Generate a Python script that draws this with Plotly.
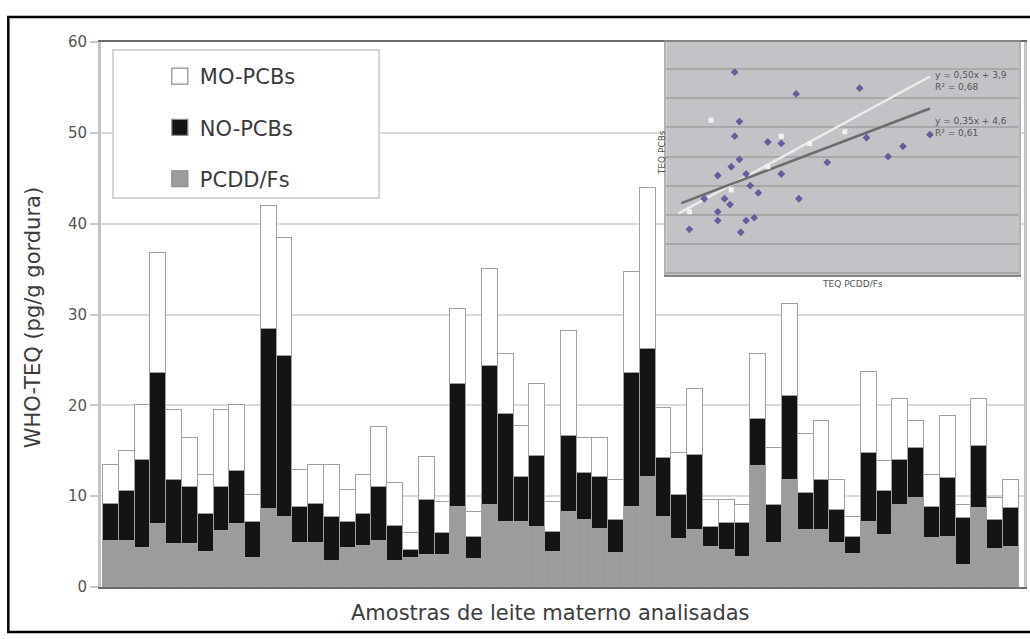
import plotly.graph_objects as go

# ---------------- main chart data (WHO-TEQ, pg/g gordura) ----------------
pcdd_fs = [5.1, 5.1, 4.3, 6.9, 4.7, 4.7, 3.8, 6.2, 6.9, 3.2, 8.6, 7.7, 4.8, 4.8, 2.9, 4.3, 4.5, 5.1, 2.9, 3.2,
           3.5, 3.5, 8.8, 3.1, 9.0, 7.2, 7.2, 6.6, 3.9, 8.3, 7.4, 6.4, 3.7, 8.8, 12.1, 7.7, 5.3, 6.3, 4.4, 4.1,
           3.3, 13.3, 4.8, 11.8, 6.3, 6.3, 4.8, 3.6, 7.2, 5.7, 9.0, 9.8, 5.4, 5.5, 2.4, 8.7, 4.2, 4.4]
no_pcbs = [4.0, 5.5, 9.7, 16.7, 7.1, 6.3, 4.2, 4.8, 5.9, 4.0, 19.8, 17.7, 4.0, 4.3, 4.8, 2.9, 3.5, 5.9, 3.8, 0.9,
           6.1, 2.4, 13.6, 2.4, 15.3, 11.8, 4.9, 7.8, 2.2, 8.3, 5.2, 5.7, 3.7, 14.8, 14.1, 6.5, 4.8, 8.2, 2.2, 2.9,
           3.7, 5.2, 4.2, 9.2, 4.1, 5.5, 3.7, 1.9, 7.6, 4.9, 5.0, 5.5, 3.4, 6.5, 5.2, 6.8, 3.2, 4.3]
mo_pcbs = [4.3, 4.4, 6.0, 13.2, 7.7, 5.4, 4.3, 8.5, 7.2, 2.9, 13.6, 13.0, 4.1, 4.3, 5.7, 3.5, 4.3, 6.6, 4.8, 1.8,
           4.7, 3.5, 8.2, 2.8, 10.7, 6.7, 5.6, 8.0, 3.3, 11.6, 3.8, 4.3, 4.4, 11.1, 17.7, 5.5, 4.7, 7.3, 3.0, 2.6,
           2.0, 7.2, 6.3, 10.2, 6.4, 6.5, 3.3, 2.2, 8.9, 3.3, 6.7, 3.0, 3.5, 6.8, 1.4, 5.2, 2.4, 3.1]
samples = list(range(1, len(pcdd_fs) + 1))

legend_names = ["MO-PCBs", "NO-PCBs", "PCDD/Fs"]
y_title = "WHO-TEQ (pg/g gordura)"
x_title = "Amostras de leite materno analisadas"

# ---------------- inset (scatter with two trend lines) ----------------
inset_a_x = [4.55, 9.1, 13.8, 4.9, 4.55, 8.0, 7.0, 14.3, 19.0, 17.0, 15.9, 4.9, 11.4, 4.3, 3.3,
             5.4, 8.0, 5.7, 6.3, 2.3, 3.8, 4.2, 9.3, 3.3, 3.3, 6.0, 5.4, 1.2, 5.0]
inset_a_y = [13.8, 12.3, 12.7, 10.4, 9.4, 8.9, 9.0, 9.3, 9.5, 8.7, 8.0, 7.8, 7.6, 7.3, 6.7,
             6.8, 6.8, 6.0, 5.5, 5.1, 5.1, 4.7, 5.1, 4.2, 3.6, 3.8, 3.6, 3.0, 2.8]
inset_b_x = [2.8, 8.0, 7.0, 4.3, 1.2, 10.1, 12.7]
inset_b_y = [10.5, 9.4, 7.3, 5.7, 4.2, 8.9, 9.7]
fit_light_x = [0.4, 19.0]
fit_light_y = [4.1, 13.5]
fit_dark_x = [0.6, 19.0]
fit_dark_y = [4.8, 11.3]
eq_light = ["y = 0,50x + 3,9", "R² = 0,68"]
eq_dark = ["y = 0,35x + 4,6", "R² = 0,61"]
inset_x_title = "TEQ PCDD/Fs"
inset_y_title = "TEQ PCBs"

# ---------------- figure ----------------
W, H = 1030, 639
ML, MR, MT, MB = 101, 3, 42, 52
PW, PH = W - ML - MR, H - MT - MB


def px(xp):
    return (xp - ML) / PW


def py(yp):
    return (H - MB - yp) / PH


FONT = "DejaVu Sans"
GRAY = "#9c9c9c"
BLACK = "#141414"
WHITE = "#ffffff"
EDGE = "#a0a0a0"

fig = go.Figure()

for vals, name, col in [(pcdd_fs, legend_names[2], GRAY),
                        (no_pcbs, legend_names[1], BLACK),
                        (mo_pcbs, legend_names[0], WHITE)]:
    fig.add_trace(go.Bar(x=samples, y=vals, name=name, showlegend=False,
                         marker=dict(color=col, line=dict(color=EDGE, width=1.4))))

# legend entries (larger square swatches)
for i, (name, col) in enumerate(zip(legend_names, [WHITE, BLACK, GRAY])):
    fig.add_trace(go.Scatter(x=[None], y=[None], mode="markers", name=name,
                             legendgroup=f"g{i}", showlegend=True,
                             marker=dict(symbol="square", size=16, color=col,
                                         line=dict(color="#8c8c8c", width=1.2))))

# inset traces
fig.add_trace(go.Scatter(x=fit_light_x, y=fit_light_y, mode="lines", xaxis="x2", yaxis="y2",
                         line=dict(color="#ececec", width=2.5), showlegend=False))
fig.add_trace(go.Scatter(x=fit_dark_x, y=fit_dark_y, mode="lines", xaxis="x2", yaxis="y2",
                         line=dict(color="#6c6c6c", width=2.5), showlegend=False))
fig.add_trace(go.Scatter(x=inset_b_x, y=inset_b_y, mode="markers", xaxis="x2", yaxis="y2",
                         marker=dict(symbol="square", size=5, color="#f2f2f2"), showlegend=False))
fig.add_trace(go.Scatter(x=inset_a_x, y=inset_a_y, mode="markers", xaxis="x2", yaxis="y2",
                         marker=dict(symbol="diamond", size=6, color="#6a5c9c"), showlegend=False))

n = len(samples)
x_lo = 1 - (ML + 2 + 7.92 - ML) / 15.84
x_hi = n + 0.83

inset_xr = [-0.52, 25.59]
inset_yr = [-0.137, 15.87]

fig.update_layout(
    width=W, height=H,
    margin=dict(l=ML, r=MR, t=MT, b=MB, pad=0),
    paper_bgcolor="white", plot_bgcolor="white",
    barmode="stack", bargap=0,
    font=dict(family=FONT, color="#444"),
    xaxis=dict(range=[x_lo, x_hi], showticklabels=False, ticks="", showgrid=False,
               zeroline=False, showline=True, linecolor="#6a6a6a", linewidth=2, mirror=True),
    yaxis=dict(range=[0, 60], dtick=10, tick0=0, ticks="outside", ticklen=8, tickwidth=2,
               tickcolor="#c8c8c8", tickfont=dict(family=FONT, size=15, color="#555"),
               showgrid=True, gridcolor="#dadada", gridwidth=2, zeroline=False,
               showline=True, linecolor="#c4c4c4", linewidth=3, mirror=True),
    xaxis2=dict(domain=[px(668), px(1022)], anchor="y2", range=inset_xr, showgrid=False,
                zeroline=False, showticklabels=False, ticks="", showline=True,
                linecolor="#858585", linewidth=2, mirror=True),
    yaxis2=dict(domain=[py(275), 1.0], anchor="x2", range=inset_yr, dtick=2, tick0=0,
                showgrid=True, gridcolor="#a8a8a8", gridwidth=1.5, zeroline=False,
                showticklabels=False, ticks="", showline=True, linecolor="#b2b2b2",
                linewidth=2, mirror=True),
    legend=dict(x=px(160), y=py(56), xanchor="left", yanchor="top",
                bgcolor="rgba(0,0,0,0)", borderwidth=0, traceorder="grouped",
                tracegroupgap=21, font=dict(family=FONT, size=21, color="#3a3a3a"),
                itemsizing="trace"),
    showlegend=True,
)

shapes = [
    # inset grey background
    dict(type="rect", xref="x2", yref="y2", x0=inset_xr[0], x1=inset_xr[1],
         y0=inset_yr[0], y1=inset_yr[1], fillcolor="#c3c3c7", line=dict(width=0), layer="below"),
    # legend box
    dict(type="rect", xref="paper", yref="paper", x0=px(113), x1=px(380), y0=py(198), y1=py(50),
         fillcolor="white", line=dict(color="#d4d4d4", width=2), layer="above"),
    # outer frame
    dict(type="rect", xref="paper", yref="paper", x0=px(8), x1=px(1045), y0=py(632), y1=py(17),
         line=dict(color="black", width=2.5), fillcolor="rgba(0,0,0,0)", layer="above"),
]
fig.update_layout(shapes=shapes)

annotations = [
    dict(text=x_title, xref="paper", yref="paper", x=px(552), y=py(613), xanchor="center",
         yanchor="middle", showarrow=False, font=dict(family=FONT, size=21, color="#3c3c3c")),
    dict(text=y_title, xref="paper", yref="paper", x=px(33), y=py(318), xanchor="center",
         yanchor="middle", textangle=-90, showarrow=False,
         font=dict(family=FONT, size=21, color="#3c3c3c")),
    dict(text="<br>".join(eq_light), xref="x2", yref="y2", x=19.2, y=13.2, xanchor="left",
         yanchor="middle", align="left", showarrow=False,
         font=dict(family=FONT, size=9, color="#555")),
    dict(text="<br>".join(eq_dark), xref="x2", yref="y2", x=19.2, y=10.0, xanchor="left",
         yanchor="middle", align="left", showarrow=False,
         font=dict(family=FONT, size=9, color="#555")),
    dict(text=inset_x_title, xref="paper", yref="paper", x=px(855), y=py(284), xanchor="center",
         yanchor="middle", showarrow=False, font=dict(family=FONT, size=9, color="#555")),
    dict(text=inset_y_title, xref="paper", yref="paper", x=px(664), y=py(153), xanchor="center",
         yanchor="middle", textangle=-90, showarrow=False,
         font=dict(family=FONT, size=9, color="#555")),
]
fig.update_layout(annotations=annotations)

fig.write_html("out.html")
